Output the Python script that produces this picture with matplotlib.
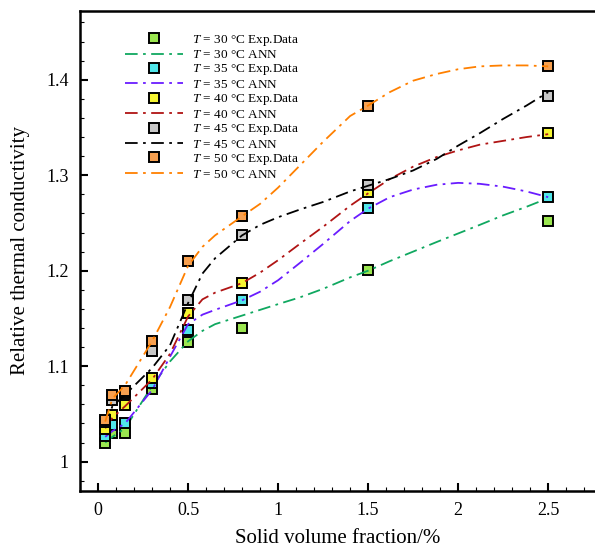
import numpy as np
import matplotlib
matplotlib.use("Agg")
import matplotlib.pyplot as plt
from matplotlib.ticker import MultipleLocator

plt.rcParams['font.family'] = ['Liberation Serif', 'DejaVu Serif']
plt.rcParams['mathtext.fontset'] = 'custom'
plt.rcParams['mathtext.it'] = 'Liberation Serif:italic'
plt.rcParams['mathtext.rm'] = 'Liberation Serif'

# experimental data
phi = [0.04, 0.08, 0.15, 0.3, 0.5, 0.8, 1.5, 2.5]
exp_30 = [1.020, 1.030, 1.030, 1.076, 1.125, 1.140, 1.201, 1.252]
exp_35 = [1.027, 1.038, 1.040, 1.082, 1.138, 1.169, 1.266, 1.277]
exp_40 = [1.034, 1.049, 1.059, 1.088, 1.156, 1.187, 1.282, 1.344]
exp_45 = [1.042, 1.065, 1.072, 1.116, 1.169, 1.237, 1.290, 1.383]
exp_50 = [1.044, 1.070, 1.074, 1.126, 1.210, 1.257, 1.373, 1.414]

# ANN curves
phi_ann = [0.04, 0.08, 0.15, 0.3, 0.4, 0.5, 0.58, 0.65, 0.8, 0.9, 1.0, 1.12, 1.25, 1.4, 1.5,
           1.62, 1.75, 1.88, 2.0, 2.12, 2.25, 2.38, 2.5]
ann_30 = [1.020, 1.026, 1.035, 1.079, 1.105, 1.126, 1.137, 1.144, 1.153, 1.159, 1.165, 1.172,
          1.181, 1.193, 1.200, 1.210, 1.220, 1.230, 1.239, 1.248, 1.258, 1.267, 1.276]
ann_35 = [1.026, 1.032, 1.040, 1.075, 1.110, 1.144, 1.154, 1.159, 1.169, 1.178, 1.190, 1.208,
          1.228, 1.252, 1.265, 1.277, 1.285, 1.290, 1.292, 1.291, 1.288, 1.283, 1.277]
ann_40 = [1.035, 1.046, 1.058, 1.086, 1.113, 1.152, 1.170, 1.177, 1.187, 1.198, 1.211, 1.228,
          1.246, 1.268, 1.281, 1.296, 1.309, 1.319, 1.326, 1.332, 1.336, 1.340, 1.343]
ann_45 = [1.038, 1.058, 1.070, 1.098, 1.122, 1.166, 1.197, 1.213, 1.237, 1.248, 1.256, 1.264,
          1.272, 1.283, 1.289, 1.296, 1.305, 1.317, 1.331, 1.344, 1.359, 1.373, 1.387]
ann_50 = [1.042, 1.066, 1.080, 1.126, 1.162, 1.205, 1.225, 1.237, 1.257, 1.270, 1.287, 1.310,
          1.335, 1.362, 1.373, 1.387, 1.399, 1.406, 1.411, 1.414, 1.415, 1.415, 1.414]

temps = [30, 35, 40, 45, 50]
exp_sets = [exp_30, exp_35, exp_40, exp_45, exp_50]
ann_sets = [ann_30, ann_35, ann_40, ann_45, ann_50]
face_colors = ['#9be650', '#50e6ea', '#f5f532', '#c8c8c8', '#f7a050']
line_colors = ['#10a860', '#6a1cff', '#b01414', '#000000', '#ff8000']

fig = plt.figure(figsize=(5.95, 5.47), dpi=100)
ax = fig.add_axes([80/595, 1 - 490.7/547, 1 - 80/595, (490.7 - 11)/547])

for T, ye, ya, fc, lc in zip(temps, exp_sets, ann_sets, face_colors, line_colors):
    ax.plot(phi, ye, linestyle='none', marker='s', markersize=6.5,
            markerfacecolor=fc, markeredgecolor='black', markeredgewidth=1.4,
            label=r'$T$ = %d °C Exp.Data' % T)
    ax.plot(phi_ann, ya, color=lc, linewidth=1.3, dashes=(7, 3, 1.5, 3),
            label=r'$T$ = %d °C ANN' % T)

ax.set_xlim(-0.1, 2.76)
ax.set_ylim(0.9696, 1.472)
ax.xaxis.set_minor_locator(MultipleLocator(0.1))
ax.yaxis.set_minor_locator(MultipleLocator(0.02))
ax.set_xticks([0, 0.5, 1, 1.5, 2, 2.5])
ax.set_xticklabels(['0', '0.5', '1', '1.5', '2', '2.5'])
ax.set_yticks([1, 1.1, 1.2, 1.3, 1.4])
ax.set_yticklabels(['1', '1.1', '1.2', '1.3', '1.4'])
ax.tick_params(which='major', direction='in', length=6, width=1.5, labelsize=13, pad=8)
ax.tick_params(which='minor', direction='in', length=3, width=0.8)
ax.spines['right'].set_visible(False)
for s in ['left', 'bottom', 'top']:
    ax.spines[s].set_linewidth(1.8)

ax.set_xlabel('Solid volume fraction/%', fontsize=15, labelpad=7)
ax.set_ylabel('Relative thermal conductivity', fontsize=15, labelpad=12)

ax.legend(loc='upper left', bbox_to_anchor=(118/595, 1 - 26/547),
          bbox_transform=fig.transFigure, frameon=False, fontsize=9.5,
          handlelength=4.4, handletextpad=0.7, labelspacing=0.1, borderpad=0)

fig.savefig('out.png', dpi=100)
